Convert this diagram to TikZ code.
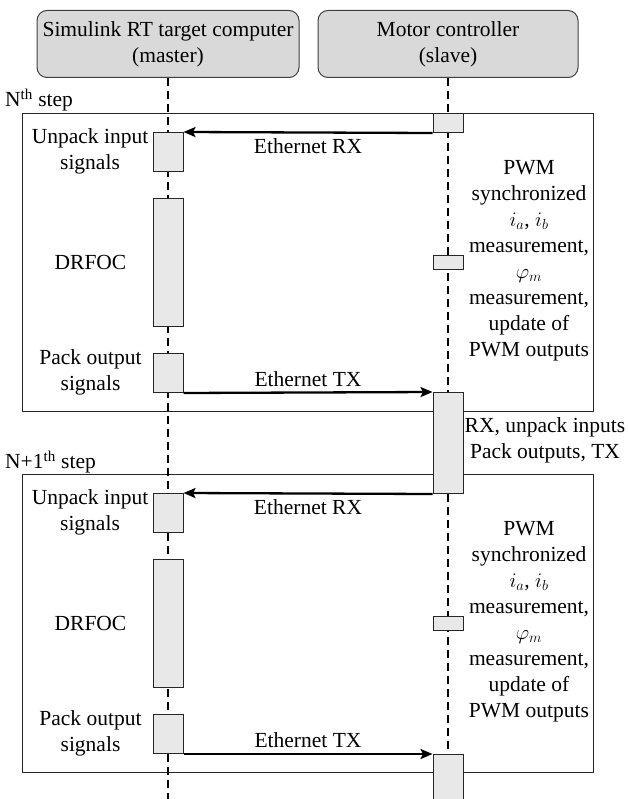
\documentclass[tikz,border=0pt]{standalone}
\usepackage{fontspec}
\setmainfont{Liberation Serif}
\newfontfamily\diagserif{Liberation Serif}
\usetikzlibrary{arrows.meta}
\tikzset{
  txt/.style={font=\diagserif\fontsize{21.5}{26}\selectfont, inner sep=0pt, align=center},
  head/.style={txt, draw=black!75, fill=black!15, rounded corners=10pt, line width=1pt, minimum height=67pt},
  act/.style={draw=black!85, fill=black!9, line width=1pt, minimum width=30pt, inner sep=0pt, anchor=north},
  stepframe/.style={draw=black!85, line width=1pt, inner sep=0pt, anchor=north west, minimum width=571pt, minimum height=298pt},
  life/.style={line width=2.5pt, dash pattern=on 8pt off 5pt},
  msg/.style={line width=2.3pt, -{Stealth[length=12pt,width=10pt,inset=2.5pt]}},
}
\begin{document}
\begin{tikzpicture}[x=1pt,y=-1pt]
\clip (0,0) rectangle (627,799);
\fill[white] (0,0) rectangle (627,799);
% headers
\node[head, minimum width=262pt] (h1) at (168,44) {Simulink RT target computer\\(master)};
\node[head, minimum width=260pt] (h2) at (448,44) {Motor controller\\(slave)};
% frames
\foreach \i/\s in {1/0,2/361}{
  \node[stepframe] (f\i) at (22,113+\s) {};
}
\node[txt, anchor=west] (s1) at (5,100) {N\textsuperscript{th} step};
\node[txt, anchor=west] (s2) at (5,462) {N+1\textsuperscript{th} step};
% lifelines
\coordinate (mend) at (168,805);
\coordinate (send) at (448,805);
\draw[life] (h1.south) -- (mend);
\draw[life] (h2.south) -- (send);
% activation boxes and labels
\foreach \i/\s in {1/0,2/361}{
  \node[act, minimum height=39pt] (u\i) at (168,132+\s) {};
  \node[act, minimum height=128pt] (d\i) at (168,198+\s) {};
  \node[act, minimum height=39pt] (p\i) at (168,353+\s) {};
  \node[act, minimum height=14pt] (m\i) at (448,255+\s) {};
  \node[txt] (lu\i) at (90,151.5+\s) {Unpack input\\signals};
  \node[txt] (ld\i) at (90.5,262+\s) {DRFOC};
  \node[txt] (lp\i) at (90.5,372.5+\s) {Pack output\\signals};
  \node[txt] (pwm\i) at (529,261+\s) {PWM\\synchronized\\$i_a$, $i_b$\\measurement,\\$\varphi_m$\\measurement,\\update of\\PWM outputs};
}
\node[act, minimum height=19pt] (rx0) at (448,113) {};
\node[act, minimum height=101pt] (sl1) at (448,392) {};
\node[act, minimum height=60pt] (sl2) at (448,754) {};
\node[txt] (rxl) at (545,440) {RX, unpack inputs\\Pack outputs, TX};
% messages
\draw[msg] (rx0.south west) -- (u1.north east) node[txt, pos=0.5, below=5pt] (e1) {Ethernet RX};
\draw[msg] (p1.south east) -- (sl1.north west) node[txt, pos=0.5, above=5pt] (t1) {Ethernet TX};
\draw[msg] (sl1.south west) -- (u2.north east) node[txt, pos=0.5, below=5pt] (e2) {Ethernet RX};
\draw[msg] (p2.south east) -- (sl2.north west) node[txt, pos=0.5, above=5pt] (t2) {Ethernet TX};
\end{tikzpicture}
\end{document}
